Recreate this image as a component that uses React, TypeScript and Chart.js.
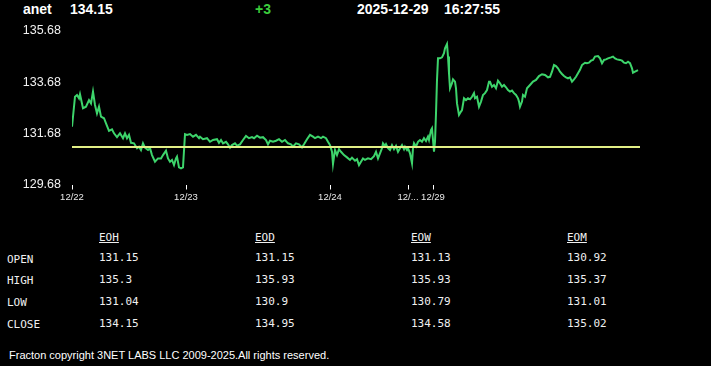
import React, { useEffect, useRef } from 'react';
import { Chart, registerables } from 'chart.js';

Chart.register(...registerables);

// ---- header ----
const symbol = 'anet';
const lastPrice = '134.15';
const change = '+3';
const quoteDate = '2025-12-29';
const quoteTime = '16:27:55';

// ---- chart data (bar index, price) ----
const barIndex = [
  0, 3, 5, 7, 8, 11, 14, 17, 19, 21, 23, 25, 27, 29, 32, 34, 37, 40, 42, 45,
  48, 51, 53, 55, 57, 59, 62, 65, 67, 69, 71, 73, 76, 78, 80, 83, 86, 89, 91, 94,
  96, 98, 100, 102, 104, 105, 107, 109, 111, 113, 115, 118, 121, 124, 127,
  128, 131, 135, 138, 141, 145, 147, 149, 151, 154, 156, 158, 160, 163, 165, 168, 171, 174, 177, 180,
  182, 185, 188, 191, 194, 196, 198, 201, 204, 207, 210, 213, 216, 219, 221, 224, 227, 230, 232, 235,
  238, 241, 243, 246, 249, 251, 254, 256, 258, 260, 261, 263, 265, 267, 269, 272, 275, 278,
  280, 283, 285, 287, 289, 291, 293, 296, 299, 302, 304, 306, 308, 310, 311, 313, 314, 316, 318, 320,
  322, 324, 326, 328, 330, 332, 333, 335, 336, 338, 340, 341, 342, 344, 346, 348, 350, 352, 354, 356,
  357, 359, 360, 362, 363, 364, 365, 366, 368, 370, 372, 373, 375, 376, 377, 378, 380, 381, 383, 384,
  385, 387, 389, 390, 392, 394, 396, 398, 400, 402, 403, 405, 407, 409, 411, 413, 415, 417,
  418, 420, 422, 424, 426, 428, 430, 432, 434, 436, 438, 440, 442, 444, 446, 447, 448, 450, 451, 453,
  455, 458, 461, 464, 467, 470, 473, 476, 478, 480, 482, 484, 486, 488, 490, 492, 494, 496, 498, 500,
  502, 504, 506, 508, 510, 513, 515, 517, 519, 521, 523, 526, 528, 530, 532, 534, 536, 539, 541, 543,
  545, 548, 550, 552, 554, 556, 558, 560, 561, 563, 565, 566,
];

const closePrice = [
  131.94, 133.11, 133.18, 133.05, 133.21, 132.66, 132.72, 132.98, 132.85, 133.31,
  132.79, 132.46, 132.72, 132.33, 132.27, 132.07, 131.78, 131.84, 131.68, 131.53,
  131.68, 131.49, 131.68, 131.49, 131.62, 131.31, 131.29, 131.10, 131.16, 131.03,
  131.29, 131.12, 131.03, 131.10, 130.83, 130.57, 130.70, 130.70, 130.83, 131.00,
  130.70, 130.57, 130.64, 130.44, 130.70, 130.77, 130.35, 130.31, 130.35, 131.65,
  131.62, 131.65, 131.55, 131.62, 131.49,
  131.55, 131.45, 131.49, 131.35, 131.42, 131.45, 131.31, 131.42, 131.29, 131.35,
  131.25, 131.12, 131.22, 131.29, 131.20, 131.25, 131.42, 131.58, 131.49, 131.53,
  131.49, 131.59, 131.51, 131.53, 131.42, 131.25, 131.39, 131.35, 131.39, 131.45,
  131.35, 131.42, 131.29, 131.25, 131.16, 131.29, 131.25, 131.13, 131.25, 131.45,
  131.62, 131.55, 131.49, 131.55, 131.49, 131.55, 131.49, 131.35, 131.22, 130.96,
  130.48, 131.03, 130.83, 131.06, 130.96, 130.83, 130.74, 130.64,
  130.73, 130.61, 130.67, 130.44, 130.57, 130.70, 130.64, 130.70, 130.67, 130.79,
  130.96, 130.70, 130.90, 131.10, 131.29, 131.19, 131.26, 131.10, 131.03, 131.22,
  131.06, 131.19, 130.96, 131.10, 131.22, 131.06, 131.16, 131.03, 131.10, 130.90,
  130.51, 131.10, 131.29, 131.16, 131.35, 131.42, 131.35, 131.49, 131.38, 131.55,
  131.42, 131.81, 131.88, 130.96, 131.35, 132.46, 133.77, 134.61, 134.61, 134.65,
  134.81, 135.00, 135.17, 134.68, 134.03, 133.44, 133.64, 133.79, 133.70, 133.44,
  132.85, 132.40, 132.53, 132.59, 133.05, 132.98, 133.05, 133.01, 133.11, 133.25,
  133.05, 133.11, 132.72, 132.92, 133.18, 133.25, 133.37, 133.70,
  133.70, 133.50, 133.57, 133.44, 133.74, 133.64, 133.50, 133.57, 133.48, 133.37,
  133.31, 133.35, 133.25, 133.18, 133.05, 132.92, 132.72, 132.92, 133.18, 133.11,
  133.44, 133.57, 133.70, 133.77, 133.92, 133.99, 133.96, 133.87, 133.89, 134.09,
  134.35, 134.31, 134.22, 134.09, 134.00, 133.92, 133.87, 133.83, 133.87, 133.70,
  133.79, 133.89, 134.03, 134.16, 134.35, 134.44, 134.42, 134.44, 134.52, 134.55,
  134.68, 134.70, 134.61, 134.42, 134.55, 134.57, 134.61, 134.65, 134.68, 134.61,
  134.57, 134.55, 134.52, 134.44, 134.42, 134.48, 134.42, 134.22, 134.05, 134.09,
  134.13, 134.15,
];

const openReference = 131.15;
const lastBar = 568;

const xTickBars = [0, 114, 258, 336, 361];
const xTickLabels = ['12/22', '12/23', '12/24', '12/...', '12/29'];

const yTickValues = [129.68, 131.68, 133.68, 135.68];

// ---- table ----
const rowLabels = ['OPEN', 'HIGH', 'LOW', 'CLOSE'];
const columnNames = ['EOH', 'EOD', 'EOW', 'EOM'];
const eohValues = [131.15, 135.3, 131.04, 134.15];
const eodValues = [131.15, 135.93, 130.9, 134.95];
const eowValues = [131.13, 135.93, 130.79, 134.58];
const eomValues = [130.92, 135.37, 131.01, 135.02];

const footerText = 'Fracton copyright 3NET LABS LLC 2009-2025.All rights reserved.';

const GREEN = '#3dd46b';
const YELLOW = '#e2ef86';
const SANS = '"Liberation Sans", Arial, sans-serif';
const MONO = '"DejaVu Sans Mono", "Liberation Mono", monospace';

export default function App() {
  const canvasRef = useRef<HTMLCanvasElement | null>(null);

  useEffect(() => {
    const canvas = canvasRef.current;
    if (!canvas) return;
    const n = Math.min(barIndex.length, closePrice.length);
    const points: { x: number; y: number }[] = [];
    for (let i = 0; i < n; i++) points.push({ x: barIndex[i], y: closePrice[i] });

    const chart = new Chart(canvas, {
      type: 'line',
      data: {
        datasets: [
          {
            label: 'open',
            data: [
              { x: 0, y: openReference },
              { x: lastBar, y: openReference },
            ],
            borderColor: YELLOW,
            borderWidth: 2,
            pointRadius: 0,
            order: 0,
          },
          {
            label: 'price',
            data: points,
            borderColor: GREEN,
            borderWidth: 2,
            pointRadius: 0,
            tension: 0,
            order: 1,
          },
        ],
      },
      options: {
        responsive: false,
        animation: false,
        devicePixelRatio: 1,
        events: [],
        layout: { padding: { left: 0, right: 71, top: 31, bottom: 5.5 } },
        plugins: { legend: { display: false }, tooltip: { enabled: false } },
        scales: {
          x: {
            type: 'linear',
            min: 0,
            max: lastBar,
            afterBuildTicks: (axis: any) => {
              axis.ticks = xTickBars.map((v) => ({ value: v }));
            },
            afterFit: (axis: any) => {
              axis.height = 20;
            },
            border: { display: false },
            grid: {
              display: true,
              drawOnChartArea: false,
              drawTicks: true,
              tickLength: 5,
              color: '#ffffff',
              lineWidth: 1,
            },
            ticks: {
              autoSkip: false,
              maxRotation: 0,
              minRotation: 0,
              padding: 2,
              color: '#e8e8e8',
              font: { family: SANS, size: 9.5 },
              callback: (_v: any, i: number) => xTickLabels[i] ?? '',
            },
          },
          y: {
            type: 'linear',
            min: yTickValues[0],
            max: yTickValues[yTickValues.length - 1],
            afterBuildTicks: (axis: any) => {
              axis.ticks = yTickValues.map((v) => ({ value: v }));
            },
            afterFit: (axis: any) => {
              axis.width = 72;
            },
            border: { display: false },
            grid: { display: false, drawTicks: false },
            ticks: {
              padding: 11,
              color: '#f0f0f0',
              font: { family: SANS, size: 12.5 },
              callback: (v: any) => Number(v).toFixed(2),
            },
          },
        },
      },
    } as any);
    return () => chart.destroy();
  }, []);

  const columns = [eohValues, eodValues, eowValues, eomValues];
  const colX = [99, 255, 411, 567];
  const valueRowTop = [250, 272, 294, 316];
  const labelRowTop = [252, 273, 295, 317];

  const headerStyle: React.CSSProperties = {
    position: 'absolute',
    top: 1.5,
    fontFamily: SANS,
    fontWeight: 'bold',
    fontSize: 14,
    lineHeight: '14px',
    color: '#ffffff',
    whiteSpace: 'nowrap',
  };
  const monoStyle: React.CSSProperties = {
    position: 'absolute',
    fontFamily: MONO,
    fontSize: 11,
    lineHeight: '16px',
    color: '#f0f0f0',
    whiteSpace: 'nowrap',
  };

  return (
    <div
      style={{
        position: 'fixed',
        left: 0,
        top: 0,
        width: 711,
        height: 366,
        background: '#000000',
        overflow: 'hidden',
      }}
    >
      <div style={{ ...headerStyle, left: 23 }}>{symbol}</div>
      <div style={{ ...headerStyle, left: 70 }}>{lastPrice}</div>
      <div style={{ ...headerStyle, left: 255, color: '#3ccc3c' }}>{change}</div>
      <div style={{ ...headerStyle, left: 357 }}>{quoteDate}</div>
      <div style={{ ...headerStyle, left: 444 }}>{quoteTime}</div>

      <canvas
        ref={canvasRef}
        width={711}
        height={210}
        style={{ position: 'absolute', left: 0, top: 0, width: 711, height: 210 }}
      />

      {columnNames.map((c, ci) => (
        <div key={c} style={{ ...monoStyle, left: colX[ci], top: 229.5, textDecoration: 'underline' }}>
          {c}
        </div>
      ))}
      {rowLabels.map((r, ri) => (
        <div key={r} style={{ ...monoStyle, left: 7, top: labelRowTop[ri] }}>
          {r}
        </div>
      ))}
      {columns.map((vals, ci) =>
        vals.map((v, ri) => (
          <div key={ci + '-' + ri} style={{ ...monoStyle, left: colX[ci], top: valueRowTop[ri] }}>
            {String(v)}
          </div>
        ))
      )}

      <div
        style={{
          position: 'absolute',
          left: 9,
          top: 349,
          fontFamily: SANS,
          fontSize: 11,
          lineHeight: '12px',
          color: '#ffffff',
          whiteSpace: 'nowrap',
        }}
      >
        {footerText}
      </div>
    </div>
  );
}
